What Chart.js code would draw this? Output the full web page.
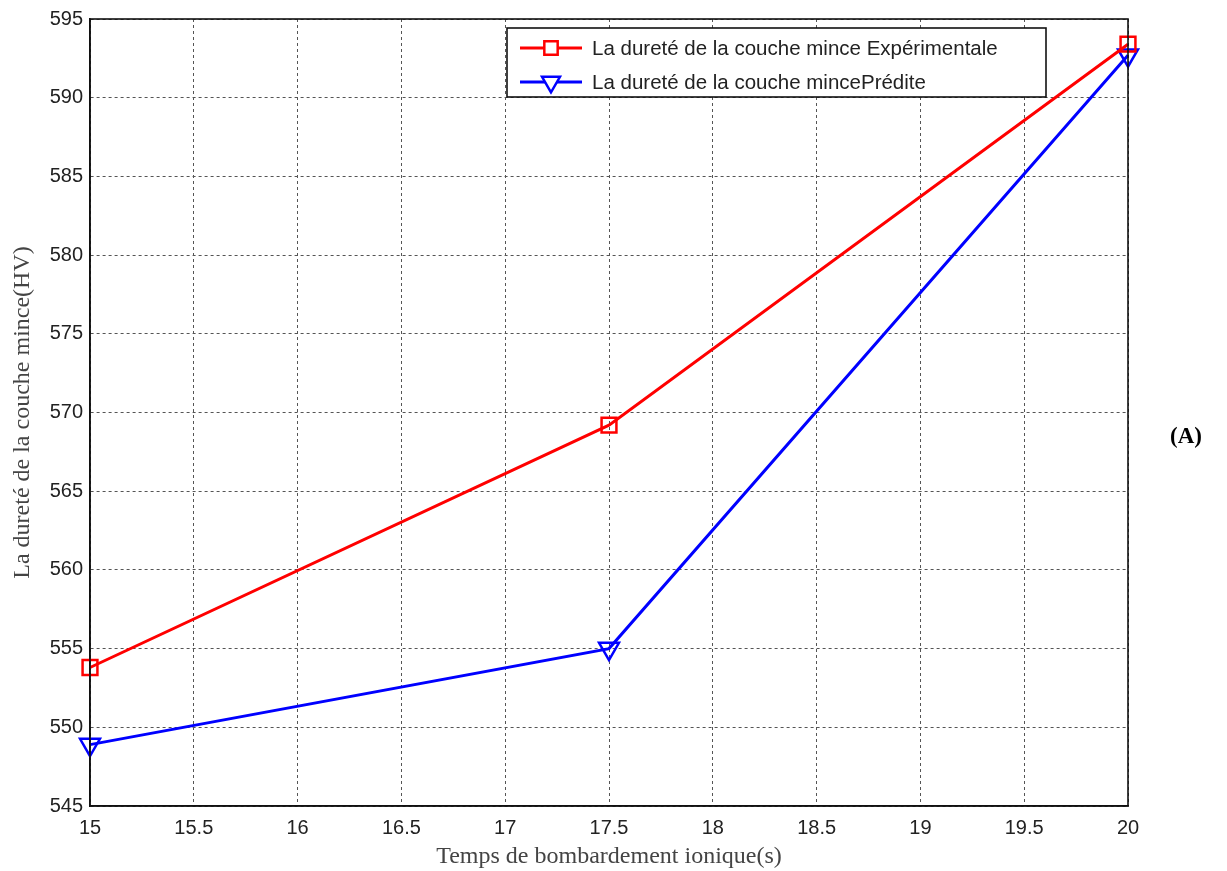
<!DOCTYPE html>
<html>
<head>
<meta charset="utf-8">
<script src="https://cdn.jsdelivr.net/npm/chart.js@4.4.1/dist/chart.umd.min.js"></script>
<style>
  html, body { margin: 0; padding: 0; background: #ffffff; }
  #wrap { width: 1227px; height: 871px; position: relative; }
</style>
</head>
<body>
<div id="wrap"><canvas id="c" width="1227" height="871"></canvas></div>
<script>
// Bombardment time (s) and thin-film hardness (HV)
const times = [15, 17.5, 20];
const hardnessExperimental = [553.8, 569.2, 593.4];
const hardnessPredicted = [548.9, 555.0, 592.7];

const seriesLabels = [
  'La dureté de la couche mince Expérimentale',
  'La dureté de la couche mincePrédite'
];
const xTitle = 'Temps de bombardement ionique(s)';
const yTitle = 'La dureté de la couche mince(HV)';
const panelTag = '(A)';

const xMin = 15, xMax = 20, xStep = 0.5;
const yMin = 545, yMax = 595, yStep = 5;

const sansFont = '"Liberation Sans", Arial, sans-serif';
const serifFont = '"Liberation Serif", "Times New Roman", serif';

const toPoints = (xs, ys) => xs.map((x, i) => ({ x: x, y: ys[i] }));

// Box around the plot area plus an in-plot legend and the panel tag
const framePlugin = {
  id: 'frame',
  afterDatasetsDraw(chart) {
    const { ctx, chartArea: a } = chart;
    ctx.save();
    ctx.strokeStyle = '#111';
    ctx.lineWidth = 1.6;
    ctx.strokeRect(a.left, a.top, a.right - a.left, a.bottom - a.top);

    // legend
    const bx = 507, by = 28, bw = 539, bh = 69;
    ctx.fillStyle = '#ffffff';
    ctx.fillRect(bx, by, bw, bh);
    ctx.strokeStyle = '#111';
    ctx.lineWidth = 1.6;
    ctx.strokeRect(bx, by, bw, bh);
    const rows = [48, 82];
    chart.data.datasets.forEach((ds, i) => {
      const y = rows[i];
      ctx.strokeStyle = ds.borderColor;
      ctx.lineWidth = ds.borderWidth;
      ctx.beginPath();
      ctx.moveTo(520, y);
      ctx.lineTo(582, y);
      ctx.stroke();
      ctx.strokeStyle = ds.pointBorderColor;
      ctx.fillStyle = '#ffffff';
      ctx.lineWidth = ds.pointBorderWidth;
      Chart.helpers.drawPoint(ctx, {
        pointStyle: ds.pointStyle,
        rotation: ds.pointRotation || 0,
        radius: ds.pointRadius * 0.9,
        borderWidth: ds.pointBorderWidth
      }, 551, y);
      ctx.fillStyle = '#222';
      ctx.font = '20.5px ' + sansFont;
      ctx.textBaseline = 'middle';
      ctx.textAlign = 'left';
      ctx.fillText(ds.label, 592, y + 1);
    });

    ctx.fillStyle = '#000';
    ctx.font = 'bold 23px ' + serifFont;
    ctx.textAlign = 'center';
    ctx.textBaseline = 'middle';
    ctx.fillText(panelTag, 1186, 437);
    ctx.restore();
  }
};

new Chart(document.getElementById('c'), {
  type: 'line',
  data: {
    datasets: [
      {
        label: seriesLabels[0],
        data: toPoints(times, hardnessExperimental),
        borderColor: '#ff0000',
        backgroundColor: 'rgba(255,255,255,0)',
        borderWidth: 3,
        pointStyle: 'rect',
        pointRadius: 10.5,
        pointBorderWidth: 2.5,
        pointBorderColor: '#ff0000',
        pointBackgroundColor: 'rgba(255,255,255,0)',
        tension: 0,
        clip: false
      },
      {
        label: seriesLabels[1],
        data: toPoints(times, hardnessPredicted),
        borderColor: '#0000ff',
        backgroundColor: 'rgba(255,255,255,0)',
        borderWidth: 3,
        pointStyle: 'triangle',
        pointRotation: 180,
        pointRadius: 11.5,
        pointBorderWidth: 2.5,
        pointBorderColor: '#0000ff',
        pointBackgroundColor: 'rgba(255,255,255,0)',
        tension: 0,
        clip: false
      }
    ]
  },
  options: {
    responsive: false,
    animation: false,
    layout: { padding: { left: 0, right: 99, top: 19, bottom: 0 } },
    plugins: {
      legend: { display: false },
      tooltip: { enabled: false }
    },
    scales: {
      x: {
        type: 'linear',
        min: xMin,
        max: xMax,
        afterFit(scale) { scale.height = 65; },
        ticks: {
          stepSize: xStep,
          color: '#222',
          font: { family: sansFont, size: 20 },
          padding: 10,
          maxRotation: 0,
          autoSkip: false,
          callback: (v) => String(v)
        },
        grid: {
          color: '#555',
          lineWidth: 1,
          drawTicks: false,
          tickLength: 0
        },
        border: { display: true, color: '#111', width: 1.6, dash: [3, 3] },
        title: {
          display: true,
          text: xTitle,
          color: '#444',
          font: { family: serifFont, size: 24 },
          padding: { top: 8, bottom: 0 }
        }
      },
      y: {
        type: 'linear',
        min: yMin,
        max: yMax,
        afterFit(scale) { scale.width = 90; },
        ticks: {
          stepSize: yStep,
          color: '#222',
          font: { family: sansFont, size: 20 },
          padding: 7
        },
        grid: {
          color: '#555',
          lineWidth: 1,
          drawTicks: false,
          tickLength: 0
        },
        border: { display: true, color: '#111', width: 1.6, dash: [3, 3] },
        title: {
          display: true,
          text: yTitle,
          color: '#444',
          font: { family: serifFont, size: 24 },
          padding: { top: 8, bottom: 0 }
        }
      }
    }
  },
  plugins: [framePlugin]
});
</script>
</body>
</html>
